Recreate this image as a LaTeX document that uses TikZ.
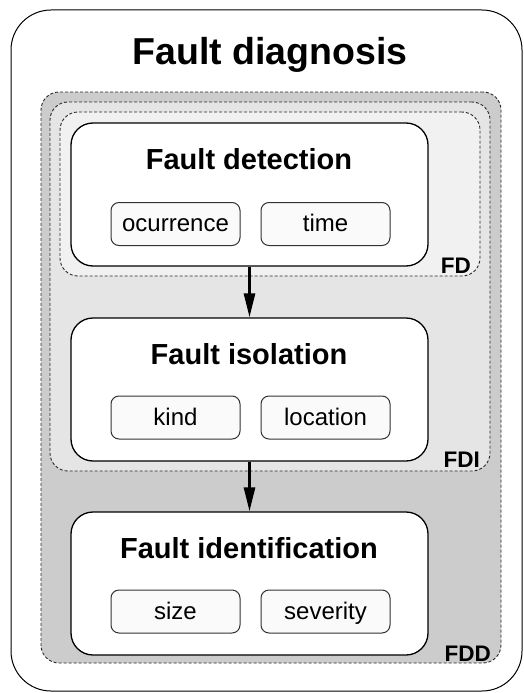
\documentclass[tikz,border=0pt]{standalone}
\usepackage{fontspec}
\setmainfont{Liberation Sans}
\usetikzlibrary{arrows.meta}
\definecolor{fddgray}{HTML}{CCCCCC}
\definecolor{fdigray}{HTML}{E5E5E5}
\definecolor{fdgray}{HTML}{F1F1F1}
\definecolor{dashgray}{HTML}{2A2A2A}
\definecolor{subfill}{HTML}{FAFAFA}
\tikzset{
  groupbox/.style={draw=dashgray, dashed, dash pattern=on 3pt off 2pt, line width=0.9pt, rounded corners=18pt},
  stagebox/.style={draw=black, fill=white, line width=1.3pt, rounded corners=22pt, minimum width=357pt, minimum height=143pt, inner sep=0pt},
  subbox/.style={draw=black!80, fill=subfill, line width=1pt, rounded corners=8pt, minimum width=129pt, minimum height=43pt, inner sep=0pt},
  stagetitle/.style={font=\fontsize{29}{30}\selectfont\bfseries, anchor=base, inner sep=0pt},
  subtext/.style={font=\fontsize{24}{25}\selectfont, anchor=base, inner sep=0pt},
  grouplabel/.style={font=\fontsize{22.5}{23}\selectfont\bfseries, anchor=base east, inner sep=0pt},
  flow/.style={line width=2.8pt, -{Triangle[length=24pt,width=11pt]}}
}
\begin{document}
\begin{tikzpicture}[x=1pt,y=-1pt]
\useasboundingbox (0,0) rectangle (524,693);
% outer
\node[draw=black, line width=1pt, rounded corners=40pt, minimum width=511pt, minimum height=681pt, inner sep=0pt] (outer) at (266.5,350.5) {};
\node[font=\fontsize{37.5}{38}\selectfont\bfseries, anchor=base, inner sep=0pt] (title) at (270,64) {Fault diagnosis};
% group boxes
\node[groupbox, fill=fddgray, minimum width=460pt, minimum height=571pt, inner sep=0pt] (fdd) at (271,377.5) {};
\node[groupbox, fill=fdigray, minimum width=440pt, minimum height=369pt, inner sep=0pt] (fdi) at (270,286.5) {};
\node[groupbox, fill=fdgray, minimum width=420pt, minimum height=164pt, inner sep=0pt] (fd) at (270,194) {};
% stage boxes
\node[stagebox] (det) at (249.5,194.5) {};
\node[stagebox] (iso) at (249.5,389.5) {};
\node[stagebox] (ide) at (249.5,583.5) {};
% titles
\node[stagetitle] (dett) at (249,169) {Fault detection};
\node[stagetitle] (isot) at (249,364) {Fault isolation};
\node[stagetitle] (idet) at (249,558) {Fault identification};
% sub boxes
\node[subbox] (occ) at (175.5,224) {};
\node[subbox] (time) at (325.5,224) {};
\node[subbox] (kind) at (175.5,417.5) {};
\node[subbox] (loc) at (325.5,417.5) {};
\node[subbox] (size) at (175.5,611.5) {};
\node[subbox] (sev) at (325.5,611.5) {};
\node[subtext] at (175.5,231) {ocurrence};
\node[subtext] at (325.5,231) {time};
\node[subtext] at (175.5,425) {kind};
\node[subtext] at (325.5,425) {location};
\node[subtext] at (175.5,619) {size};
\node[subtext] at (325.5,619) {severity};
% group labels
\node[grouplabel] (fdl) at (471,273) {FD};
\node[grouplabel] (fdil) at (480,467) {FDI};
\node[grouplabel] (fddl) at (491,661) {FDD};
% arrows
\draw[flow] (det.south) -- (iso.north);
\draw[flow] (iso.south) -- (ide.north);
\end{tikzpicture}
\end{document}
